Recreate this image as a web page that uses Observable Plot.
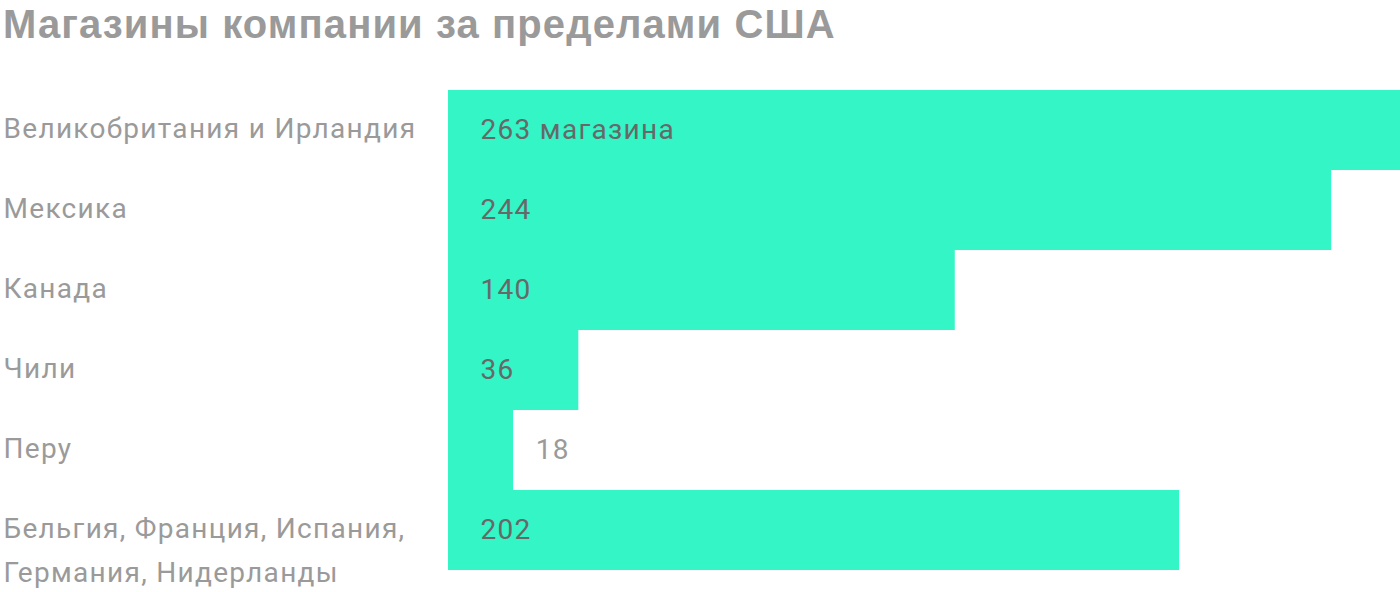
<!DOCTYPE html>
<html>
<head>
<meta charset="utf-8">
<script src="https://cdn.jsdelivr.net/npm/d3@7"></script>
<script src="https://cdn.jsdelivr.net/npm/@observablehq/plot@0.6"></script>
<style>
  html, body { margin: 0; padding: 0; background: #fff; }
  #title {
    box-sizing: border-box;
    height: 60px;
    padding: 4px 0 0 3px;
    font-family: "Liberation Sans", Arial, sans-serif;
    font-weight: 700;
    font-size: 40px;
    line-height: 40px;
    letter-spacing: 1.1px;
    color: #9a9a9a;
    white-space: nowrap;
  }
  #chart svg { display: block; }
  #chart svg text { letter-spacing: 1.3px; }
</style>
</head>
<body>
<div id="title">Магазины компании за пределами США</div>
<div id="chart"></div>
<script>
const countries = [
  "Великобритания и Ирландия",
  "Мексика",
  "Канада",
  "Чили",
  "Перу",
  "Бельгия, Франция, Испания,\nГермания, Нидерланды"
];
const stores = [263, 244, 140, 36, 18, 202];
const valueLabels = ["263 магазина", "244", "140", "36", "18", "202"];

const data = countries.map((c, i) => ({country: c, value: stores[i], label: valueLabels[i]}));
const insideMin = 30;

const chart = Plot.plot({
  width: 1400,
  height: 532,
  marginLeft: 448,
  marginRight: 0,
  marginTop: 30,
  marginBottom: 22,
  x: {domain: [0, d3.max(stores)], axis: null},
  y: {domain: countries, padding: 0, axis: null},
  style: {fontFamily: "Roboto, sans-serif", fontSize: "28px", background: "#fff"},
  marks: [
    Plot.barX(data, {x: "value", y: "country", fill: "#33f5c6"}),
    Plot.text(data, {
      y: "country", text: "country", frameAnchor: "left", textAnchor: "start",
      dx: -445, lineAnchor: "top", dy: -24, lineHeight: 1.57,
      fill: "#9a9a9a", fontSize: 28
    }),
    Plot.text(data.filter(d => d.value >= insideMin), {
      x: 0, y: "country", text: "label", textAnchor: "start", dx: 32,
      fill: "#686868", fontSize: 28
    }),
    Plot.text(data.filter(d => d.value < insideMin), {
      x: "value", y: "country", text: "label", textAnchor: "start", dx: 22,
      fill: "#9a9a9a", fontSize: 28
    })
  ]
});
document.getElementById("chart").appendChild(chart);
</script>
</body>
</html>
